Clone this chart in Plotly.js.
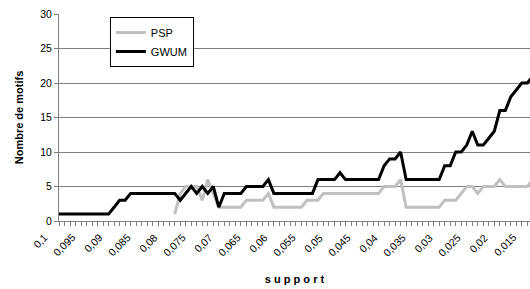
<!DOCTYPE html>
<html><head><meta charset="utf-8">
<script src="https://cdn.plot.ly/plotly-3.0.1.min.js"></script>
<style>html,body{margin:0;padding:0;background:#fff;}#chart{width:530px;height:289px;}</style>
</head><body><div id="chart"></div>
<script>
const support = [0.1,0.099,0.098,0.097,0.096,0.095,0.094,0.093,0.092,0.091,
 0.09,0.089,0.088,0.087,0.086,0.085,0.084,0.083,0.082,0.081,
 0.08,0.079,0.078,0.077,0.076,0.075,0.074,0.073,0.072,0.071,
 0.07,0.069,0.068,0.067,0.066,0.065,0.064,0.063,0.062,0.061,
 0.06,0.059,0.058,0.057,0.056,0.055,0.054,0.053,0.052,0.051,
 0.05,0.049,0.048,0.047,0.046,0.045,0.044,0.043,0.042,0.041,
 0.04,0.039,0.038,0.037,0.036,0.035,0.034,0.033,0.032,0.031,
 0.03,0.029,0.028,0.027,0.026,0.025,0.024,0.023,0.022,0.021,
 0.02,0.019,0.018,0.017,0.016,0.015,0.014];
const psp = [null,null,null,null,null,null,null,null,null,null,
 null,null,null,null,null,null,null,null,null,null,
 null,1,4,5,5,5,3,6,4,2,
 2,2,2,2,3,3,3,3,4,2,
 2,2,2,2,2,3,3,3,4,4,
 4,4,4,4,4,4,4,4,4,5,
 5,5,6,2,2,2,2,2,2,2,
 3,3,3,4,5,5,4,5,5,5,
 6,5,5,5,5,5,6];
const gwum = [1,1,1,1,1,1,1,1,1,1,
 2,3,3,4,4,4,4,4,4,4,
 4,4,3,4,5,4,5,4,5,2,
 4,4,4,4,5,5,5,5,6,4,
 4,4,4,4,4,4,4,6,6,6,
 6,7,6,6,6,6,6,6,6,8,
 9,9,10,6,6,6,6,6,6,6,
 8,8,10,10,11,13,11,11,12,13,
 16,16,18,19,20,20,21];
const tickVals = [0.1,0.095,0.09,0.085,0.08,0.075,0.07,0.065,0.06,0.055,0.05,0.045,0.04,0.035,0.03,0.025,0.02,0.015];
const tickText = ["0,1","0,095","0,09","0,085","0,08","0,075","0,07","0,065","0,06","0,055","0,05","0,045","0,04","0,035","0,03","0,025","0,02","0,015"];
const yTicks = [0,5,10,15,20,25,30];

const font = "Liberation Sans, Arial, sans-serif";
const traces = [
 {x: support, y: psp, name: "PSP", type: "scatter", mode: "lines", line: {color: "#c0c0c0", width: 3}, connectgaps: false},
 {x: support, y: gwum, name: "GWUM", type: "scatter", mode: "lines", line: {color: "#000000", width: 3}}
];
const tickAnnotations = tickVals.map((v, k) => ({
 x: v, xref: "x", y: 0, yref: "paper", text: tickText[k], showarrow: false,
 textangle: -45, xanchor: "right", yanchor: "top", xshift: -8, yshift: -9,
 font: {family: font, size: 10.5, color: "#000"}, borderpad: 0
}));
const layout = {
 width: 530, height: 289,
 margin: {l: 59, r: 0, t: 14, b: 68, pad: 0},
 paper_bgcolor: "#fff", plot_bgcolor: "#fff",
 font: {family: font, size: 10, color: "#000"},
 showlegend: true,
 legend: {x: 0.108, y: 0.985, xanchor: "left", yanchor: "top", bgcolor: "#fff",
   bordercolor: "#000", borderwidth: 1, font: {family: font, size: 11, color: "#000"}},
 annotations: tickAnnotations,
 xaxis: {range: [0.1, 0.01452], tickmode: "array", tickvals: tickVals, showticklabels: false,
   ticks: "outside", ticklen: 4, tickcolor: "#808080",
   showline: true, linecolor: "#808080", linewidth: 1, showgrid: false, zeroline: false,
   minor: {dtick: 0.001, tick0: 0, ticks: "outside", ticklen: 4, tickcolor: "#808080", showgrid: false},
   title: {text: "s u p p o r t", font: {family: font, size: 11, color: "#000", weight: "bold"}, standoff: 50},
   automargin: false},
 yaxis: {range: [0, 30], tickmode: "array", tickvals: yTicks, ticks: "outside", ticklen: 4, tickcolor: "#808080",
   showline: true, linecolor: "#808080", linewidth: 1, showgrid: true, gridcolor: "#808080", gridwidth: 1,
   zeroline: false, tickfont: {family: font, size: 10.5, color: "#000"},
   title: {text: "Nombre de motifs", font: {family: font, size: 11, color: "#000", weight: "bold"}, standoff: 14},
   automargin: false}
};
Plotly.newPlot("chart", traces, layout, {displayModeBar: false, staticPlot: true});
</script></body></html>
